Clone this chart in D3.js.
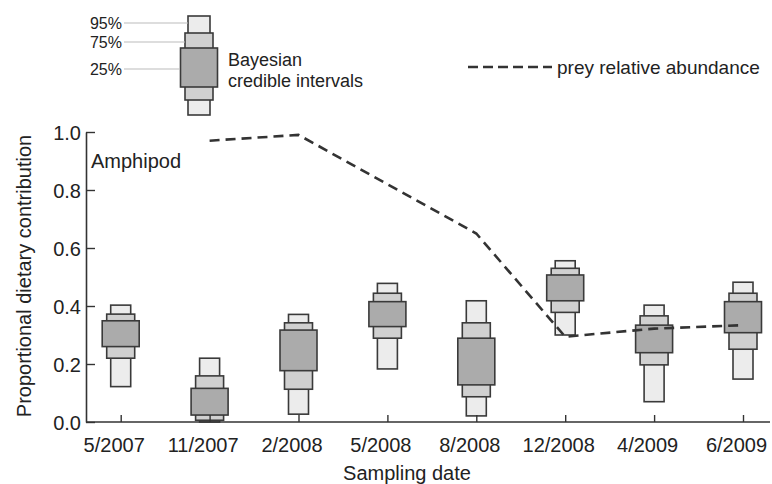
<!DOCTYPE html>
<html>
<head>
<meta charset="utf-8">
<script src="https://cdnjs.cloudflare.com/ajax/libs/d3/7.8.5/d3.min.js"></script>
<style>
  body { margin: 0; background: #fff; }
  svg { display: block; }
  text { font-family: "Liberation Sans", Arial, sans-serif; fill: #222; }
</style>
</head>
<body>
<svg id="chart"></svg>
<script>
// sampling dates (x categories)
const dates = ['5/2007', '11/2007', '2/2008', '5/2008', '8/2008', '12/2008', '4/2009', '6/2009'];

// Bayesian credible intervals, proportional dietary contribution
const ci95Lo = [0.122, 0.0, 0.027, 0.183, 0.021, 0.300, 0.070, 0.148];
const ci95Hi = [0.403, 0.220, 0.371, 0.478, 0.418, 0.556, 0.403, 0.482];
const ci75Lo = [0.220, 0.006, 0.113, 0.289, 0.087, 0.378, 0.197, 0.251];
const ci75Hi = [0.372, 0.159, 0.342, 0.444, 0.342, 0.530, 0.366, 0.444];
const ci25Lo = [0.260, 0.024, 0.177, 0.329, 0.128, 0.418, 0.239, 0.308];
const ci25Hi = [0.349, 0.116, 0.317, 0.415, 0.289, 0.507, 0.334, 0.415];

// prey relative abundance (dashed line)
const preyDates = ['11/2007', '2/2008', '5/2008', '8/2008', '12/2008', '4/2009', '6/2009'];
const preyValues = [0.97, 0.99, 0.82, 0.65, 0.294, 0.322, 0.334];

const yTicks = [0, 0.2, 0.4, 0.6, 0.8, 1.0];

let width = 772;
let height = 484;
let axisX = 86, axisY = 422, axisRight = 770;

let svg = d3.select('#chart')
            .attr('width', width)
            .attr('height', height);

let xScale = d3.scalePoint()
               .domain(dates)
               .range([120.7, 743]);

let yScale = d3.scaleLinear()
               .domain([0, 1])
               .range([axisY, 132]);

// box widths for each interval
const boxes = [
  {lo: ci95Lo, hi: ci95Hi, w: 20, fill: '#ececec'},
  {lo: ci75Lo, hi: ci75Hi, w: 28, fill: '#d0d0d0'},
  {lo: ci25Lo, hi: ci25Hi, w: 37, fill: '#ababab'}
];

boxes.forEach(b => {
  svg.append('g').selectAll('rect')
     .data(dates)
     .enter()
     .append('rect')
     .attr('x', d => xScale(d) - b.w / 2)
     .attr('width', b.w)
     .attr('y', (d, i) => yScale(b.hi[i]))
     .attr('height', (d, i) => yScale(b.lo[i]) - yScale(b.hi[i]))
     .attr('fill', b.fill)
     .attr('stroke', '#3a3a3a')
     .attr('stroke-width', 1.6);
});

// axes
let xAxis = d3.axisBottom(xScale).tickSizeInner(-7).tickSizeOuter(0).tickPadding(12);
let gx = svg.append('g')
            .attr('transform', `translate(0,${axisY})`)
            .call(xAxis);
gx.select('.domain').attr('d', `M${axisX},0H${axisRight}`);

let yAxis = d3.axisLeft(yScale).tickValues(yTicks).tickFormat(d3.format('.1f'))
              .tickSizeInner(-9).tickSizeOuter(0).tickPadding(5);
let gy = svg.append('g')
            .attr('transform', `translate(${axisX},0)`)
            .call(yAxis);

[gx, gy].forEach(g => {
  g.select('.domain').attr('stroke', '#333').attr('stroke-width', 1.6);
  g.selectAll('.tick line').attr('stroke', '#333').attr('stroke-width', 1.4);
  g.selectAll('.tick text')
   .style('font-family', '"Liberation Sans", Arial, sans-serif')
   .style('font-size', '20px')
   .attr('fill', '#222');
});
gx.selectAll('.tick text').attr('dx', -7).attr('dy', '0.9em');
gy.selectAll('.tick text').attr('dy', '0.36em');

// prey relative abundance
let line = d3.line()
             .x((d, i) => xScale(preyDates[i]))
             .y(d => yScale(d));

svg.append('path')
   .datum(preyValues)
   .attr('d', line)
   .attr('fill', 'none')
   .attr('stroke', '#333')
   .attr('stroke-width', 2.6)
   .attr('stroke-dasharray', '10,6');

// titles
svg.append('text')
   .attr('transform', 'rotate(-90)')
   .attr('x', -276)
   .attr('y', 31)
   .style('font-size', '20px')
   .style('text-anchor', 'middle')
   .text('Proportional dietary contribution');

svg.append('text')
   .attr('x', 407)
   .attr('y', 480)
   .style('font-size', '20px')
   .style('text-anchor', 'middle')
   .text('Sampling date');

svg.append('text')
   .attr('x', 91)
   .attr('y', 168)
   .style('font-size', '20px')
   .text('Amphipod');

// legend: credible intervals
let leg = svg.append('g');
const legBoxes = [
  {y0: 16, y1: 115, w: 22, fill: '#ececec'},
  {y0: 33, y1: 100, w: 28, fill: '#d0d0d0'},
  {y0: 48, y1: 87, w: 37, fill: '#ababab'}
];
legBoxes.forEach(b => {
  leg.append('rect')
     .attr('x', 199 - b.w / 2)
     .attr('y', b.y0)
     .attr('width', b.w)
     .attr('height', b.y1 - b.y0)
     .attr('fill', b.fill)
     .attr('stroke', '#3a3a3a')
     .attr('stroke-width', 1.6);
});
const legLabels = [
  {t: '95%', y: 23, x2: 188},
  {t: '75%', y: 42, x2: 185},
  {t: '25%', y: 69, x2: 180}
];
legLabels.forEach(l => {
  leg.append('line')
     .attr('x1', 124).attr('x2', l.x2)
     .attr('y1', l.y).attr('y2', l.y)
     .attr('stroke', '#bbb')
     .attr('stroke-width', 1.2);
  leg.append('text')
     .attr('x', 122)
     .attr('y', l.y)
     .attr('dy', '0.36em')
     .style('font-size', '16px')
     .style('text-anchor', 'end')
     .attr('fill', '#444')
     .text(l.t);
});
leg.append('text').attr('x', 228).attr('y', 66).style('font-size', '18px').text('Bayesian');
leg.append('text').attr('x', 228).attr('y', 87).style('font-size', '18px').text('credible intervals');

// legend: prey line
leg.append('line')
   .attr('x1', 468).attr('x2', 552)
   .attr('y1', 67).attr('y2', 67)
   .attr('stroke', '#333')
   .attr('stroke-width', 2.6)
   .attr('stroke-dasharray', '10,5');
leg.append('text')
   .attr('x', 557)
   .attr('y', 67)
   .attr('dy', '0.36em')
   .style('font-size', '19px')
   .text('prey relative abundance');
</script>
</body>
</html>
